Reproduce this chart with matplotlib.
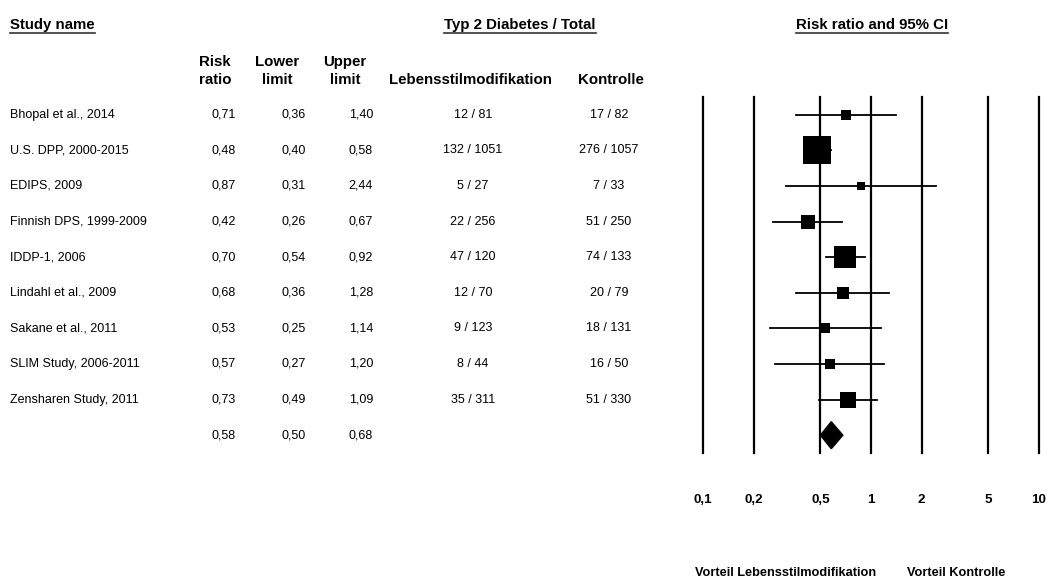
import numpy as np
import matplotlib
matplotlib.use("Agg")
import matplotlib.pyplot as plt
from matplotlib.transforms import blended_transform_factory
from matplotlib.patches import Polygon
from matplotlib.ticker import NullLocator

plt.rcParams['font.family'] = ['Liberation Sans', 'DejaVu Sans']

studies = ["Bhopal et al., 2014", "U.S. DPP, 2000-2015", "EDIPS, 2009",
           "Finnish DPS, 1999-2009", "IDDP-1, 2006", "Lindahl et al., 2009",
           "Sakane et al., 2011", "SLIM Study, 2006-2011", "Zensharen Study, 2011"]
rr = [0.71, 0.48, 0.87, 0.42, 0.70, 0.68, 0.53, 0.57, 0.73]
lower = [0.36, 0.40, 0.31, 0.26, 0.54, 0.36, 0.25, 0.27, 0.49]
upper = [1.40, 0.58, 2.44, 0.67, 0.92, 1.28, 1.14, 1.20, 1.09]
events_ls = [12, 132, 5, 22, 47, 12, 9, 8, 35]
total_ls = [81, 1051, 27, 256, 120, 70, 123, 44, 311]
events_ko = [17, 276, 7, 51, 74, 20, 18, 16, 51]
total_ko = [82, 1057, 33, 250, 133, 79, 131, 50, 330]
pooled_rr, pooled_lo, pooled_hi = 0.58, 0.50, 0.68

tick_values = [0.1, 0.2, 0.5, 1, 2, 5, 10]
tick_labels = ["0,1", "0,2", "0,5", "1", "2", "5", "10"]

W, H = 1051, 588
fig = plt.figure(figsize=(W / 100, H / 100), dpi=100)


def fx(px):
    return px / W


def fy(py):
    return 1 - py / H


def de(v):
    return "{:.2f}".format(v).replace(".", ",")


# forest panel
ax = fig.add_axes([fx(703), fy(453), fx(1039) - fx(703), (453 - 97) / H])
ax.set_xscale('log')
ax.set_xlim(0.1, 10)
n = len(studies)
ax.set_ylim(n + 0.5, -0.5)
for s in ax.spines.values():
    s.set_visible(False)
ax.set_xticks([])
ax.set_yticks([])
ax.xaxis.set_minor_locator(NullLocator())

for v in tick_values:
    ax.axvline(v, color='black', lw=1.6, clip_on=False)

# marker size from inverse-variance weights
se = (np.log(upper) - np.log(lower)) / (2 * 1.96)
w = 1 / se ** 2
side_px = 28 * (w / w.max()) ** 0.37

for i in range(n):
    ax.plot([lower[i], upper[i]], [i, i], color='black', lw=1.3)
    ax.plot(rr[i], i, marker='s', ms=side_px[i] * 0.72, color='black',
            markeredgewidth=0)

diamond = Polygon([(pooled_lo, n), (pooled_rr, n - 0.38), (pooled_hi, n),
                   (pooled_rr, n + 0.38)], closed=True, color='black')
ax.add_patch(diamond)

# text columns
row_tr = blended_transform_factory(fig.transFigure, ax.transData)
fs = 9
for i in range(n):
    fig.text(fx(10), i, studies[i], transform=row_tr, fontsize=fs, va='center')
    fig.text(fx(236), i, de(rr[i]), transform=row_tr, fontsize=fs, va='center', ha='right')
    fig.text(fx(306), i, de(lower[i]), transform=row_tr, fontsize=fs, va='center', ha='right')
    fig.text(fx(373), i, de(upper[i]), transform=row_tr, fontsize=fs, va='center', ha='right')
    fig.text(fx(473), i, "{} / {}".format(events_ls[i], total_ls[i]), transform=row_tr,
             fontsize=fs, va='center', ha='center')
    fig.text(fx(609), i, "{} / {}".format(events_ko[i], total_ko[i]), transform=row_tr,
             fontsize=fs, va='center', ha='center')
fig.text(fx(236), n, de(pooled_rr), transform=row_tr, fontsize=fs, va='center', ha='right')
fig.text(fx(306), n, de(pooled_lo), transform=row_tr, fontsize=fs, va='center', ha='right')
fig.text(fx(373), n, de(pooled_hi), transform=row_tr, fontsize=fs, va='center', ha='right')

# headers
hfs = 10.8
titles = [
    fig.text(fx(10), fy(25), "Study name", fontsize=hfs, fontweight='bold', va='center', ha='left'),
    fig.text(fx(520), fy(25), "Typ 2 Diabetes / Total", fontsize=hfs, fontweight='bold', va='center', ha='center'),
    fig.text(fx(872), fy(25), "Risk ratio and 95% CI", fontsize=hfs, fontweight='bold', va='center', ha='center'),
]
for x, top, bottom in [(215, "Risk", "ratio"), (277, "Lower", "limit"), (345, "Upper", "limit")]:
    fig.text(fx(x), fy(62), top, fontsize=hfs, fontweight='bold', va='center', ha='center')
    fig.text(fx(x), fy(80), bottom, fontsize=hfs, fontweight='bold', va='center', ha='center')
fig.text(fx(470), fy(80), "Lebensstilmodifikation", fontsize=hfs, fontweight='bold', va='center', ha='center')
fig.text(fx(611), fy(80), "Kontrolle", fontsize=hfs, fontweight='bold', va='center', ha='center')

# underline the group titles
fig.canvas.draw()
renderer = fig.canvas.get_renderer()
for t in titles:
    bb = t.get_window_extent(renderer).transformed(fig.transFigure.inverted())
    fig.add_artist(plt.Line2D([bb.x0, bb.x1], [fy(33), fy(33)], color='#333333', lw=1.2))

# x tick labels
tick_tr = blended_transform_factory(ax.transData, fig.transFigure)
for v, lab in zip(tick_values, tick_labels):
    fig.text(v, fy(500), lab, transform=tick_tr, fontsize=9.6, fontweight='bold',
             ha='center', va='center')

fig.text(fx(786), fy(573), "Vorteil Lebensstilmodifikation", fontsize=9.2, fontweight='bold',
         ha='center', va='center')
fig.text(fx(956), fy(573), "Vorteil Kontrolle", fontsize=9.2, fontweight='bold',
         ha='center', va='center')

fig.savefig("out.png", dpi=100)
